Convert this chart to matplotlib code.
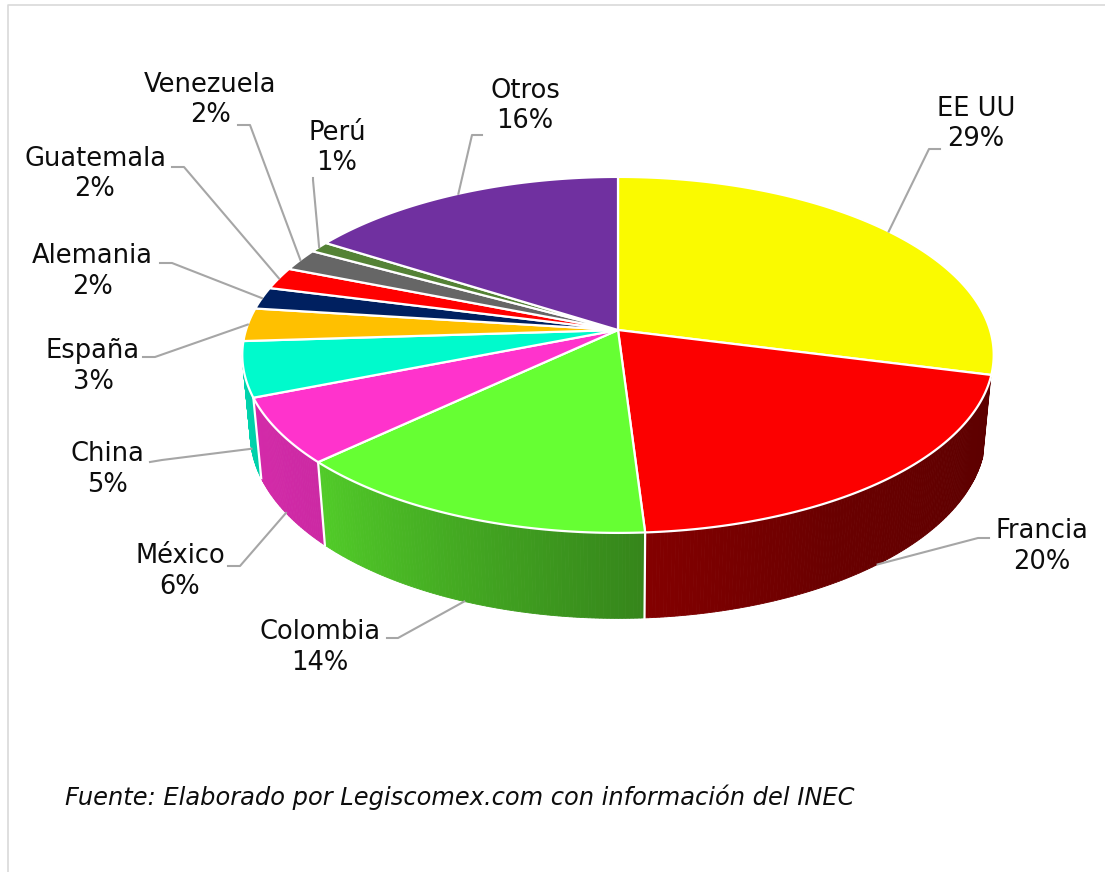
import numpy as np
import matplotlib.pyplot as plt
from matplotlib.patches import Polygon
from matplotlib.colors import to_rgb

# datos
paises = ['EE UU', 'Francia', 'Colombia', 'México', 'China', 'España',
          'Alemania', 'Guatemala', 'Venezuela', 'Perú', 'Otros']
porcentajes = [29, 20, 14, 6, 5, 3, 2, 2, 2, 1, 16]
colores = ['#FAFA00', '#FC0000', '#66FF33', '#FF33CC', '#00FACC', '#FFC000',
           '#002060', '#FF0000', '#666666', '#548235', '#7030A0']

# posicion de las etiquetas (centro), codo y final de la linea guia
lab_xy = [(976, 124), (1042, 546), (320, 647), (180, 571), (107, 469), (93, 366),
          (92, 271), (95, 174), (210, 100), (337, 148), (525, 106)]
guia = [[(929, 149), (940, 149)], [(978, 538), (989, 538)], [(398, 638), (387, 638)],
        [(240, 566), (228, 566)], [(162, 460), (150, 462)], [(155, 357), (143, 357)],
        [(172, 263), (160, 263)], [(184, 167), (172, 167)], [(250, 125), (238, 125)],
        [(313, 180), (313, 178)], [(472, 135), (482, 135)]]

# "camara" del pastel 3D
CX, CY = 618, 330
FX, FY = 372, 174.5
K = 0.14      # perspectiva
PH = 0.456    # altura del borde
QH = 0.021


def proj(t, d):
    t = np.radians(t)
    den = 1 + K * np.sin(t) + QH * d
    return CX + FX * np.cos(t) / den, CY + FY * (-np.sin(t) + PH * d) / den


def sombra(t):
    return np.interp(t, [-180, -137, -86, -60, -30, 0],
                     [0.86, 0.80, 0.52, 0.42, 0.38, 0.36])


fig = plt.figure(figsize=(11.05, 8.72), dpi=100)
ax = fig.add_axes([0, 0, 1, 1])
ax.set_xlim(0, 1105)
ax.set_ylim(872, 0)
ax.axis('off')

# marco
ax.plot([7.5, 7.5, 1110], [880, 5.5, 5.5], color='#d9d9d9', lw=1.2)

tot = float(sum(porcentajes))
fin = 90 - 360 * np.cumsum(porcentajes) / tot
ini = np.concatenate([[90], fin[:-1]])
lim = np.degrees(np.arcsin(K))
vis_a, vis_b = -180 + lim, -15

# paredes
for i in range(len(paises)):
    a = max(fin[i], vis_a)
    b = min(ini[i], vis_b)
    if a >= b:
        continue
    ts = np.linspace(b, a, max(int((b - a) * 2), 2))
    base = np.array(to_rgb(colores[i]))
    for t0, t1 in zip(ts[:-1], ts[1:]):
        x0, y0 = proj(t0, 0)
        x1, y1 = proj(t1, 0)
        x2, y2 = proj(t1, 1)
        x3, y3 = proj(t0, 1)
        col = np.clip(base * sombra((t0 + t1) / 2), 0, 1)
        ax.add_patch(Polygon([(x0, y0), (x1, y1), (x2, y2), (x3, y3)],
                             closed=True, fc=col, ec=col, lw=0.6, zorder=1))

# caras superiores
for i in range(len(paises)):
    ts = np.linspace(ini[i], fin[i], max(int((ini[i] - fin[i]) * 2), 3))
    xs, ys = proj(ts, 0)
    pts = [(CX, CY)] + list(zip(xs, ys))
    ax.add_patch(Polygon(pts, closed=True, fc=colores[i], ec='white', lw=1.6,
                         joinstyle='round', zorder=3))

# lineas blancas entre paredes
for t in ini:
    if vis_a < t < vis_b:
        xa, ya = proj(t, 0)
        xb, yb = proj(t, 1)
        ax.plot([xa, xb], [ya, yb], color='white', lw=1.6, zorder=4)

# etiquetas y lineas guia
for i in range(len(paises)):
    mid = (ini[i] + fin[i]) / 2
    d = 1 if vis_a < mid < vis_b else 0
    ax_, ay_ = proj(mid, d)
    (ex, ey), (fx, fy) = guia[i]
    ax.plot([ax_, ex, fx], [ay_, ey, fy], color='#a6a6a6', lw=1.5, zorder=5)
    ax.text(lab_xy[i][0], lab_xy[i][1], f'{paises[i]}\n{porcentajes[i]}%',
            ha='center', va='center', fontsize=18.5, color='#0d0d0d',
            linespacing=1.25, zorder=6)

ax.text(65, 797, 'Fuente: Elaborado por Legiscomex.com con información del INEC',
        ha='left', va='center', fontsize=17.4, style='italic', color='#0d0d0d')

fig.savefig('out.png', dpi=100)
